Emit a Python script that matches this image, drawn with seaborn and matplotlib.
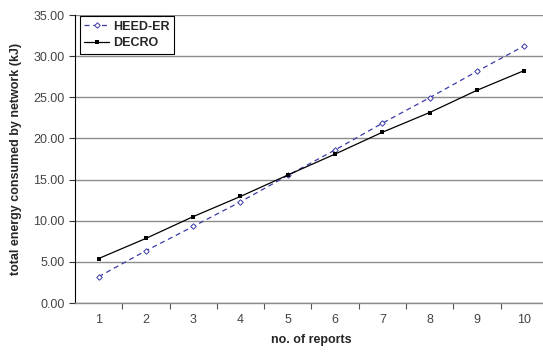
import matplotlib
matplotlib.use("Agg")
import matplotlib.pyplot as plt
import seaborn as sns
import pandas as pd
from matplotlib.ticker import FormatStrFormatter

reports = [1, 2, 3, 4, 5, 6, 7, 8, 9, 10]
heed_er = [3.2, 6.35, 9.3, 12.3, 15.5, 18.6, 21.85, 24.95, 28.15, 31.25]
decro = [5.4, 7.85, 10.5, 12.95, 15.55, 18.1, 20.75, 23.15, 25.85, 28.25]

df = pd.DataFrame({
    "reports": reports * 2,
    "energy": heed_er + decro,
    "series": ["HEED-ER"] * len(reports) + ["DECRO"] * len(reports),
})

sns.set_style("white")
plt.rcParams["font.family"] = ["Liberation Sans", "DejaVu Sans"]

fig = plt.figure(figsize=(5.43, 3.53), dpi=100)
ax = fig.add_axes([0.138, 0.1416, 0.871, 0.8159])

sns.lineplot(data=df[df.series == "HEED-ER"], x="reports", y="energy", ax=ax,
             color="#3a3aa8", linestyle=(0, (4, 3)), linewidth=0.9,
             marker="D", markersize=2.8, markerfacecolor="white",
             markeredgecolor="#3a3aa8", markeredgewidth=0.7, label="HEED-ER")
sns.lineplot(data=df[df.series == "DECRO"], x="reports", y="energy", ax=ax,
             color="black", linewidth=0.9, marker="s", markersize=2.2,
             markeredgewidth=0, label="DECRO")

ax.set_xlim(0.5, 10.5)
ax.set_ylim(0, 35)
ax.set_yticks([0, 5, 10, 15, 20, 25, 30, 35])
ax.yaxis.set_major_formatter(FormatStrFormatter("%.2f"))
ax.set_xticks(reports)
ax.set_xticks([r + 0.5 for r in reports[:-1]], minor=True)
ax.tick_params(axis="x", which="major", length=0, labelsize=9, colors="#444444", pad=8)
ax.tick_params(axis="x", which="minor", length=4, width=0.8, color="#555555", direction="out", bottom=True)
ax.tick_params(axis="y", which="major", length=4, width=0.8, color="#333333", direction="out",
               left=True, labelsize=9, labelcolor="#444444")

ax.grid(axis="y", color="#8c8c8c", linewidth=1.0)
ax.set_axisbelow(True)
for s in ["top", "right"]:
    ax.spines[s].set_visible(False)
ax.spines["left"].set_color("black")
ax.spines["left"].set_linewidth(0.8)
ax.spines["bottom"].set_color("#8c8c8c")
ax.spines["bottom"].set_linewidth(1.0)

ax.set_xlabel("no. of reports", fontsize=9, fontweight="bold", labelpad=6)
ax.set_ylabel("total energy consumed by network (kJ)", fontsize=9, fontweight="bold", labelpad=8)

leg = ax.legend(loc="upper left", bbox_to_anchor=(0.01, 0.995), fontsize=9, frameon=True,
                fancybox=False, edgecolor="black", framealpha=1, borderpad=0.35,
                handlelength=2.0, handletextpad=0.3, borderaxespad=0.0, labelspacing=0.35,
                prop={"weight": "bold", "size": 9})
leg.get_frame().set_linewidth(0.8)

fig.savefig("out.png", dpi=100)
